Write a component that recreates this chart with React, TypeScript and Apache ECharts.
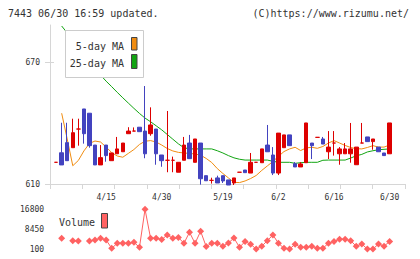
import React, { useEffect, useRef } from 'react';
import * as echarts from 'echarts';

// ---- data ----
const dates = [
  '4/2', '4/3', '4/4', '4/7', '4/8', '4/9', '4/10', '4/11', '4/14', '4/15',
  '4/16', '4/17', '4/18', '4/21', '4/22', '4/23', '4/24', '4/25', '4/28', '4/30',
  '5/1', '5/2', '5/7', '5/8', '5/9', '5/12', '5/13', '5/14', '5/15', '5/16',
  '5/19', '5/20', '5/21', '5/22', '5/23', '5/26', '5/27', '5/28', '5/29', '5/30',
  '6/2', '6/3', '6/4', '6/5', '6/6', '6/9', '6/10', '6/11', '6/12', '6/13',
  '6/16', '6/17', '6/18', '6/19', '6/20', '6/23', '6/24', '6/25', '6/26', '6/27',
  '6/30',
];
const dateLabels = ['4/15', '4/30', '5/19', '6/2', '6/16', '6/30'];

const opens = [
  620.7, 625.4, 630.4, 627.9, 637.1, 647.0, 644.9, 629.2, 619.4, 629.2,
  621.5, 624.9, 625.9, 634.8, 636.1, 638.0, 636.1, 634.8, 637.1, 624.3,
  621.7, 621.7, 615.8, 621.7, 630.2, 620.7, 630.2, 614.1, 611.8, 613.0,
  614.1, 612.0, 610.5, 615.8, 616.9, 615.4, 620.7, 620.5, 629.2, 624.3,
  615.4, 627.9, 634.2, 620.0, 618.4, 620.5, 630.2, 633.0, 632.2, 625.9,
  630.2, 624.9, 624.9, 624.9, 619.5, 630.2, 633.2, 630.9, 628.2, 625.3,
  624.9,
];
const closes = [
  620.7, 619.4, 621.5, 635.3, 637.1, 634.8, 628.9, 619.4, 623.0, 624.0,
  625.3, 627.3, 630.2, 636.1, 636.1, 635.8, 624.9, 639.1, 624.9, 621.5,
  621.7, 621.7, 620.7, 629.2, 622.5, 632.2, 612.6, 611.6, 611.8, 610.5,
  611.5, 609.5, 613.0, 615.8, 615.6, 620.7, 620.7, 627.3, 625.9, 615.4,
  635.1, 634.2, 628.9, 618.4, 619.9, 640.1, 628.9, 633.0, 629.7, 628.2,
  630.2, 627.3, 627.3, 627.3, 628.2, 630.2, 630.9, 632.2, 625.9, 624.0,
  640.1,
];
const lows = [
  620.7, 619.4, 621.5, 627.9, 628.9, 629.9, 627.9, 619.4, 619.4, 621.0,
  621.5, 624.9, 625.9, 634.8, 636.1, 635.8, 622.7, 633.8, 619.5, 618.5,
  615.8, 615.8, 615.8, 621.7, 622.5, 620.7, 609.7, 611.6, 610.2, 610.5,
  610.5, 609.5, 609.5, 615.8, 615.6, 615.4, 620.7, 620.5, 625.9, 614.4,
  614.4, 627.9, 628.9, 618.4, 618.4, 620.5, 622.3, 633.0, 629.7, 622.3,
  624.0, 619.5, 624.9, 620.5, 619.5, 630.2, 630.9, 626.9, 625.9, 624.0,
  624.9,
];
const highs = [
  620.7, 640.2, 640.2, 642.2, 642.2, 647.0, 644.9, 629.2, 629.2, 629.2,
  625.3, 633.2, 630.2, 638.0, 637.9, 638.0, 658.3, 647.8, 637.1, 624.3,
  646.0, 623.5, 620.7, 633.2, 634.2, 632.2, 630.2, 614.1, 613.1, 614.1,
  614.1, 612.0, 613.0, 615.8, 616.9, 625.3, 620.7, 627.3, 639.1, 628.2,
  635.1, 634.2, 634.2, 620.8, 620.8, 640.1, 630.2, 633.0, 633.2, 636.1,
  636.1, 628.2, 630.2, 640.1, 628.2, 640.1, 633.2, 632.2, 628.2, 625.3,
  640.1,
];
const ma5 = [
  null, 644.9, 632.2, 619.0, 621.6, 626.3, 630.0, 631.2, 630.7, 628.2,
  625.5, 623.8, 623.2, 625.1, 627.0, 629.5, 631.1, 631.4, 630.7, 629.2,
  627.5, 626.3, 625.6, 625.3, 625.1, 624.8, 624.2, 622.6, 620.6, 617.6,
  615.2, 613.0, 610.8, 610.7, 611.5, 612.7, 614.2, 616.7, 618.9, 621.1,
  623.6, 626.0, 627.3, 628.1, 626.5, 627.8, 628.1, 627.6, 628.5, 630.2,
  631.4, 630.2, 629.0, 628.0, 627.4, 627.3, 628.0, 628.9, 628.2, 628.2,
  629.2,
];
const ma25 = [
  null, 687.9, 684.5, 681.1, 677.6, 674.2, 670.7, 667.2, 663.7, 660.7,
  658.0, 655.2, 652.5, 649.9, 647.3, 644.8, 642.5, 640.7, 638.7, 636.7,
  634.4, 632.1, 629.8, 627.9, 627.3, 627.3, 627.3, 627.3, 627.3, 626.4,
  625.3, 624.0, 622.9, 622.2, 621.8, 621.8, 621.8, 621.8, 621.8, 621.2,
  620.7, 620.7, 620.7, 620.2, 620.5, 620.7, 620.7, 620.7, 621.7, 621.8,
  621.8, 621.8, 621.8, 622.8, 623.9, 624.6, 625.8, 626.4, 626.9, 627.1,
  627.3,
];
const volumes = [
  null, 4600, null, 3590, 3460, null, 3460, 3890, 4600, 3890,
  400, 2500, 2500, 2500, 2920, 820, 16800, 4600, 4600, 4100,
  6000, 4600, 4940, 2500, 7130, 2500, 7550, 1150, 2500, 2500,
  1280, 2620, 4730, 820, 3250, 2120, 80, 1280, 3590, 6000,
  2540, 400, 80, 2120, 820, 820, 1280, 400, 400, 2540,
  3250, 4220, 4220, 3550, 1280, 2200, 80, 80, 2200, 1280,
  3250,
];
const priceTicks = [610, 670];
const volumeTicks = [100, 8450, 16800];
const titleLeft = '7443 06/30 16:59 updated.';
const titleRight = '(C)https://www.rizumu.net/';
const legendMA5 = '5-day MA';
const legendMA25 = '25-day MA';
const legendVolume = 'Volume';

// ---- styles ----
const RED = '#dd0000';
const BLUE = '#4343bf';
const ORANGE = '#f08c10';
const GREEN = '#12a512';
const VOL = '#ff6262';
const AXIS = '#d6d6d6';
const TEXT = '#333';
const MONO = '"DejaVu Sans Mono", "Liberation Mono", monospace';

const PRICE_MIN = 610;
const PRICE_MAX = 688.4;

export default function App() {
  const ref = useRef<HTMLDivElement>(null);
  useEffect(() => {
    if (!ref.current) return;
    const chart = echarts.init(ref.current, null, { renderer: 'svg' });
    const candles = opens.map((o, i) => [o, closes[i], lows[i], highs[i]]);
    chart.setOption({
      animation: false,
      grid: [
        { left: 50, top: 25, width: 355, height: 159 },
        { left: 56.1, top: 25, width: 333.5, height: 159 },
        { left: 56.1, top: 209.3, width: 333.5, height: 39.94 },
      ],
      xAxis: [
        {
          gridIndex: 0, type: 'value', min: 0, max: 11, interval: 1,
          axisLine: { show: true, lineStyle: { color: AXIS, width: 1 } },
          axisTick: { show: true, length: 5, lineStyle: { color: AXIS } },
          axisLabel: { show: false }, splitLine: { show: false },
        },
        {
          gridIndex: 1, type: 'category', data: dates, boundaryGap: false,
          axisLine: { show: false }, axisTick: { show: false },
          splitLine: { show: false },
          axisLabel: {
            interval: (_i: number, v: string) => dateLabels.includes(v),
            fontSize: 8, fontFamily: MONO, color: TEXT, margin: 9,
          },
        },
        {
          gridIndex: 2, type: 'category', data: dates, boundaryGap: false, show: false,
        },
      ],
      yAxis: [
        {
          gridIndex: 0, type: 'value', min: PRICE_MIN, max: PRICE_MAX, position: 'left',
          axisLine: { show: true, lineStyle: { color: AXIS, width: 1 } },
          axisTick: { show: true, length: 5, customValues: priceTicks, lineStyle: { color: AXIS } },
          axisLabel: {
            customValues: priceTicks, fontSize: 8, fontFamily: MONO, color: TEXT, margin: 10,
            formatter: (v: number) => String(v),
          },
          splitLine: { show: false },
        },
        {
          gridIndex: 0, type: 'value', min: PRICE_MIN, max: PRICE_MAX, position: 'left',
          axisLine: { show: false },
          axisTick: { show: true, inside: true, length: 4, customValues: priceTicks, lineStyle: { color: AXIS } },
          axisLabel: { show: false }, splitLine: { show: false },
        },
        {
          gridIndex: 1, type: 'value', min: PRICE_MIN, max: PRICE_MAX, show: false,
          splitLine: { show: false },
        },
        {
          gridIndex: 2, type: 'value', min: 0, max: 16800,
          axisLine: { show: false }, axisTick: { show: false }, splitLine: { show: false },
          axisLabel: {
            customValues: volumeTicks, fontSize: 8, fontFamily: MONO, color: TEXT, margin: 12,
            formatter: (v: number) => String(v),
          },
        },
      ],
      series: [
        {
          type: 'line', xAxisIndex: 1, yAxisIndex: 2, data: ma25, showSymbol: false,
          lineStyle: { color: GREEN, width: 1 }, itemStyle: { color: GREEN }, z: 2,
        },
        {
          type: 'line', xAxisIndex: 1, yAxisIndex: 2, data: ma5, showSymbol: false,
          lineStyle: { color: ORANGE, width: 1 }, itemStyle: { color: ORANGE }, z: 2,
        },
        {
          type: 'candlestick', xAxisIndex: 1, yAxisIndex: 2, data: candles,
          barWidth: 4, clip: false, z: 3,
          itemStyle: {
            color: RED, color0: BLUE, borderColor: RED, borderColor0: BLUE,
            borderColorDoji: RED, borderWidth: 1,
          },
        },
        {
          type: 'line', xAxisIndex: 2, yAxisIndex: 3, data: volumes,
          symbol: 'diamond', symbolSize: 7, showSymbol: true, showAllSymbol: true, clip: false,
          connectNulls: false,
          lineStyle: { color: VOL, width: 1 }, itemStyle: { color: VOL },
        },
      ],
      graphic: [
        {
          type: 'text', x: 8, y: 13, z: 100,
          style: { text: titleLeft, font: `10px ${MONO}`, fill: TEXT, textVerticalAlign: 'middle' },
        },
        {
          type: 'text', x: 409, y: 13, z: 100,
          style: { text: titleRight, font: `10px ${MONO}`, fill: TEXT, textAlign: 'right', textVerticalAlign: 'middle' },
        },
        {
          type: 'rect', z: 100,
          shape: { x: 65.5, y: 30.5, width: 78, height: 47 },
          style: { fill: '#fff', stroke: '#cccccc', lineWidth: 1 },
        },
        {
          type: 'text', x: 124, y: 46, z: 101,
          style: { text: legendMA5, font: `10px ${MONO}`, fill: TEXT, textAlign: 'right', textVerticalAlign: 'middle' },
        },
        {
          type: 'text', x: 124, y: 63.5, z: 101,
          style: { text: legendMA25, font: `10px ${MONO}`, fill: TEXT, textAlign: 'right', textVerticalAlign: 'middle' },
        },
        {
          type: 'rect', z: 101,
          shape: { x: 131.5, y: 37.5, width: 5.5, height: 12.5 },
          style: { fill: ORANGE, stroke: '#444', lineWidth: 1 },
        },
        {
          type: 'rect', z: 101,
          shape: { x: 131.5, y: 54.5, width: 5.5, height: 14 },
          style: { fill: GREEN, stroke: '#444', lineWidth: 1 },
        },
        {
          type: 'text', x: 59, y: 222, z: 101,
          style: { text: legendVolume, font: `10px ${MONO}`, fill: TEXT, textVerticalAlign: 'middle' },
        },
        {
          type: 'rect', z: 101,
          shape: { x: 101.5, y: 213.5, width: 6, height: 14.5 },
          style: { fill: VOL, stroke: '#444', lineWidth: 1 },
        },
      ],
    });
    return () => chart.dispose();
  }, []);
  return (
    <div
      ref={ref}
      style={{ position: 'fixed', left: 0, top: 0, width: 420, height: 259, background: '#fff' }}
    />
  );
}
